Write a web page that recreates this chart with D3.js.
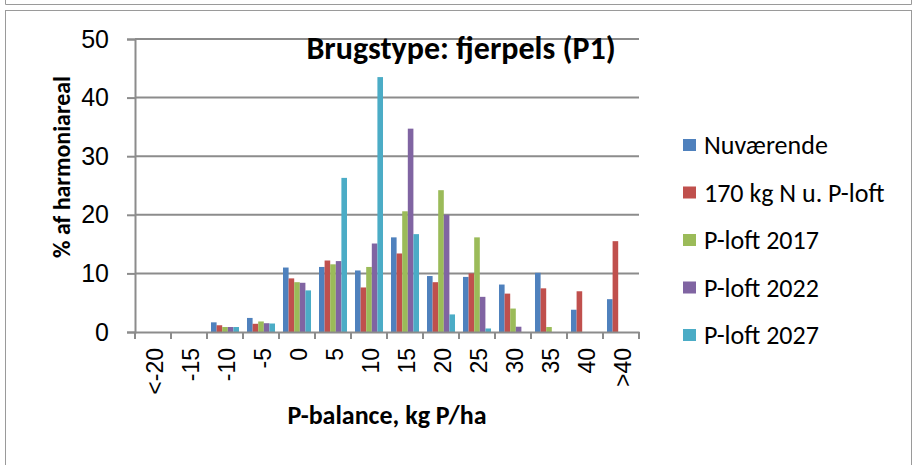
<!DOCTYPE html>
<html>
<head>
<meta charset="utf-8">
<script src="https://cdn.jsdelivr.net/npm/d3@7"></script>
<style>
  body { margin: 0; background: #fff; }
  svg { display: block; font-family: Carlito, Calibri, Lato, sans-serif; }
</style>
</head>
<body>
<div id="chart"></div>
<script>
// data
const categories = ['<-20', '-15', '-10', '-5', '0', '5', '10', '15', '20', '25', '30', '35', '40', '>40'];
const seriesNames = ['Nuværende', '170 kg N u. P-loft', 'P-loft 2017', 'P-loft 2022', 'P-loft 2027'];
const nuvaerende = [0, 0, 1.65, 2.4, 11.0, 11.1, 10.5, 16.15, 9.55, 9.4, 8.1, 10.1, 3.8, 5.6];
const kg170 = [0, 0, 1.15, 1.4, 9.15, 12.2, 7.6, 13.4, 8.5, 10.0, 6.55, 7.45, 6.95, 15.5];
const ploft2017 = [0, 0, 0.85, 1.8, 8.5, 11.55, 11.1, 20.6, 24.2, 16.15, 4.0, 0.85, 0, 0];
const ploft2022 = [0, 0, 0.85, 1.5, 8.4, 12.1, 15.1, 34.7, 20.0, 6.0, 0.9, 0, 0, 0];
const ploft2027 = [0, 0, 0.85, 1.45, 7.1, 26.3, 43.5, 16.7, 3.0, 0.6, 0, 0, 0, 0];
const yTicks = [0, 10, 20, 30, 40, 50];
const colors = ['#4F81BD', '#C0504D', '#9BBB59', '#8064A2', '#4BACC6'];

const allSeries = [nuvaerende, kg170, ploft2017, ploft2022, ploft2027];

const W = 917, H = 465;
const plot = { left: 135, right: 639, top: 39, bottom: 332 };

const svg = d3.select('#chart').append('svg')
    .attr('width', W)
    .attr('height', H);

// frames (bottom of previous box + this chart's box)
svg.append('path')
    .attr('d', 'M5.5,0 V4.5 H911.5 V0')
    .attr('fill', 'none')
    .attr('stroke', '#9a9a9a')
    .attr('stroke-width', 1);
svg.append('rect')
    .attr('x', 5.5).attr('y', 10.5)
    .attr('width', 906).attr('height', 470)
    .attr('fill', 'none')
    .attr('stroke', '#9a9a9a')
    .attr('stroke-width', 1);

const x0 = d3.scaleBand()
    .domain(categories)
    .range([plot.left, plot.right])
    .paddingInner(0.222)
    .paddingOuter(0.111);

const x1 = d3.scaleBand()
    .domain(seriesNames)
    .range([0, x0.bandwidth()]);

const y = d3.scaleLinear()
    .domain([0, 50])
    .range([plot.bottom, plot.top]);

// grid lines
svg.append('g')
    .selectAll('line')
    .data(yTicks.filter(d => d > 0))
    .enter().append('line')
    .attr('x1', plot.left)
    .attr('x2', plot.right)
    .attr('y1', d => y(d))
    .attr('y2', d => y(d))
    .attr('stroke', '#8c8c8c')
    .attr('stroke-width', 2);

// bars
const groups = svg.append('g')
    .selectAll('g')
    .data(categories)
    .enter().append('g')
    .attr('transform', d => `translate(${x0(d)},0)`);

groups.selectAll('rect')
    .data((c, i) => seriesNames.map((s, j) => ({ s, j, v: allSeries[j][i] })))
    .enter().append('rect')
    .filter(d => d.v > 0)
    .attr('x', d => x1(d.s))
    .attr('width', x1.bandwidth())
    .attr('y', d => y(d.v))
    .attr('height', d => y(0) - y(d.v))
    .attr('fill', d => colors[d.j]);

// y axis
const yAxis = svg.append('g')
    .attr('transform', `translate(${plot.left},0)`)
    .call(d3.axisLeft(y).tickValues(yTicks).tickSize(8).tickPadding(18));
yAxis.select('.domain').attr('stroke', '#8c8c8c').attr('stroke-width', 2);
yAxis.selectAll('.tick line').attr('stroke', '#8c8c8c').attr('stroke-width', 2);
yAxis.selectAll('.tick text')
    .style('font-size', '25px')
    .attr('fill', '#000');

// x axis: ticks at category boundaries
const xAxis = svg.append('g')
    .attr('transform', `translate(0,${plot.bottom})`)
    .call(d3.axisBottom(x0).tickSize(0));
xAxis.select('.domain').attr('stroke', '#8c8c8c').attr('stroke-width', 2);
xAxis.selectAll('.tick text')
    .style('font-size', '23px')
    .attr('fill', '#000')
    .attr('text-anchor', 'end')
    .attr('transform', 'rotate(-90)')
    .attr('x', -16)
    .attr('y', 2)
    .attr('dy', '0.35em');

const step = x0.step();
svg.append('g')
    .selectAll('line')
    .data(d3.range(categories.length + 1))
    .enter().append('line')
    .attr('x1', i => plot.left + i * step)
    .attr('x2', i => plot.left + i * step)
    .attr('y1', plot.bottom)
    .attr('y2', plot.bottom + 7)
    .attr('stroke', '#8c8c8c')
    .attr('stroke-width', 2);

// titles
svg.append('text')
    .attr('x', 461)
    .attr('y', 59)
    .attr('text-anchor', 'middle')
    .style('font-size', '32px')
    .style('font-weight', 'bold')
    .text('Brugstype: fjerpels (P1)');

svg.append('text')
    .attr('transform', 'translate(70,167) rotate(-90)')
    .attr('text-anchor', 'middle')
    .style('font-size', '24px')
    .style('font-weight', 'bold')
    .text('% af harmoniareal');

svg.append('text')
    .attr('x', 387)
    .attr('y', 424)
    .attr('text-anchor', 'middle')
    .style('font-size', '26px')
    .style('font-weight', 'bold')
    .text('P-balance, kg P/ha');

// legend
const legend = svg.append('g')
    .selectAll('g')
    .data(seriesNames)
    .enter().append('g')
    .attr('transform', (d, i) => `translate(683,${145 + i * 47.5})`);

legend.append('rect')
    .attr('x', 0)
    .attr('y', -6)
    .attr('width', 13)
    .attr('height', 12)
    .attr('fill', (d, i) => colors[i]);

legend.append('text')
    .attr('x', 21)
    .attr('y', 0)
    .attr('dy', '0.35em')
    .style('font-size', '26px')
    .text(d => d);
</script>
</body>
</html>
